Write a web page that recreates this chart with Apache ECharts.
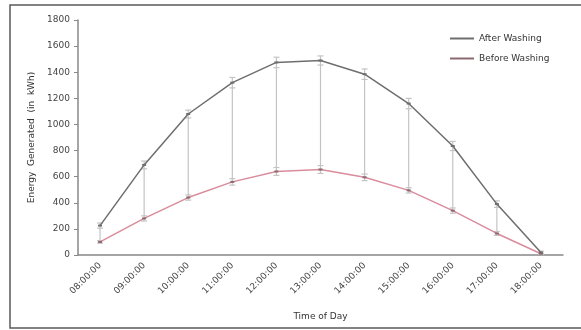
<!DOCTYPE html>
<html>
<head>
<meta charset="utf-8">
<script src="https://cdn.jsdelivr.net/npm/echarts@6/dist/echarts.min.js"></script>
<style>
  html, body { margin: 0; padding: 0; background: #fff; }
  #chart { width: 581px; height: 330px; }
</style>
</head>
<body>
<div id="chart"></div>
<script>
// Hourly energy output of the panels, before and after washing
const hours = ['08:00:00', '09:00:00', '10:00:00', '11:00:00', '12:00:00', '13:00:00',
               '14:00:00', '15:00:00', '16:00:00', '17:00:00', '18:00:00'];
const afterWashing  = [225, 690, 1080, 1320, 1475, 1490, 1385, 1160, 835, 390, 20];
const beforeWashing = [100, 280, 440, 560, 640, 655, 595, 495, 340, 165, 10];
// spread shown above the washed value and below the unwashed value
const afterSpread  = [20, 30, 30, 40, 40, 35, 40, 40, 35, 25, 10];
const beforeSpread = [10, 20, 20, 25, 30, 30, 25, 20, 20, 15, 5];
const yTicks = { min: 0, max: 1800, interval: 200 };

const font = 'DejaVu Sans, Verdana, sans-serif';
const chart = echarts.init(document.getElementById('chart'), null, { renderer: 'canvas' });

chart.setOption({
  animation: false,
  backgroundColor: '#fff',
  graphic: [{
    type: 'rect',
    shape: { x: 10, y: 5, width: 620, height: 323 },
    style: { fill: 'none', stroke: '#5a5a5a', lineWidth: 1.5 },
    silent: true,
    z: -10
  }],
  grid: { left: 78, top: 20, right: 18, bottom: 75 },
  legend: {
    orient: 'vertical',
    left: 445,
    top: 29,
    itemWidth: 24,
    itemHeight: 2,
    itemGap: 11,
    icon: 'rect',
    textStyle: { fontFamily: font, fontSize: 9, color: '#333' },
    data: ['After Washing', 'Before Washing']
  },
  xAxis: {
    type: 'category',
    data: hours,
    boundaryGap: true,
    name: 'Time of Day',
    nameLocation: 'middle',
    nameGap: 57,
    nameTextStyle: { fontFamily: font, fontSize: 9, color: '#333' },
    axisLine: { lineStyle: { color: '#888', width: 1.5 } },
    axisTick: { show: false },
    axisLabel: { rotate: 45, margin: 9, fontFamily: font, fontSize: 9, color: '#444' }
  },
  yAxis: {
    type: 'value',
    min: yTicks.min,
    max: yTicks.max,
    interval: yTicks.interval,
    name: 'Energy  Generated  (in  kWh)',
    nameLocation: 'middle',
    nameGap: 42,
    nameTextStyle: { fontFamily: font, fontSize: 9, color: '#333' },
    axisLine: { show: true, lineStyle: { color: '#888', width: 1.5 } },
    axisTick: { show: true, inside: false, length: 4, lineStyle: { color: '#888' } },
    axisLabel: { margin: 8, fontFamily: font, fontSize: 9, color: '#444', formatter: v => String(v) },
    splitLine: { show: false }
  },
  series: [
    {
      // error bars spanning from the unwashed to the washed reading
      type: 'custom',
      name: 'spread',
      silent: true,
      z: 1,
      data: hours.map((h, i) => [i, afterWashing[i], beforeWashing[i], afterSpread[i], beforeSpread[i]]),
      encode: { x: 0, y: [1, 2] },
      renderItem: function (params, api) {
        const i = api.value(0);
        const top = api.coord([i, api.value(1) + api.value(3)]);
        const aLow = api.coord([i, api.value(1) - api.value(3)]);
        const bHigh = api.coord([i, api.value(2) + api.value(4)]);
        const bot = api.coord([i, api.value(2) - api.value(4)]);
        const x = top[0];
        const w = 3;
        const style = { stroke: '#c4c4c4', lineWidth: 1.2 };
        const cap = y => ({ type: 'line', shape: { x1: x - w, y1: y, x2: x + w, y2: y }, style: style });
        return {
          type: 'group',
          children: [
            { type: 'line', shape: { x1: x, y1: top[1], x2: x, y2: bot[1] }, style: style },
            cap(top[1]), cap(aLow[1]), cap(bHigh[1]), cap(bot[1])
          ]
        };
      }
    },
    {
      name: 'After Washing',
      type: 'line',
      data: afterWashing,
      z: 3,
      symbol: 'rect',
      symbolSize: [4, 2],
      itemStyle: { color: '#6e6e6e' },
      lineStyle: { color: '#6e6e6e', width: 1.5 }
    },
    {
      name: 'Before Washing',
      type: 'line',
      data: beforeWashing,
      z: 2,
      symbol: 'rect',
      symbolSize: [4, 2],
      itemStyle: { color: '#8a6a70' },
      lineStyle: { color: '#d98c9c', width: 1.5 }
    }
  ]
});
</script>
</body>
</html>
